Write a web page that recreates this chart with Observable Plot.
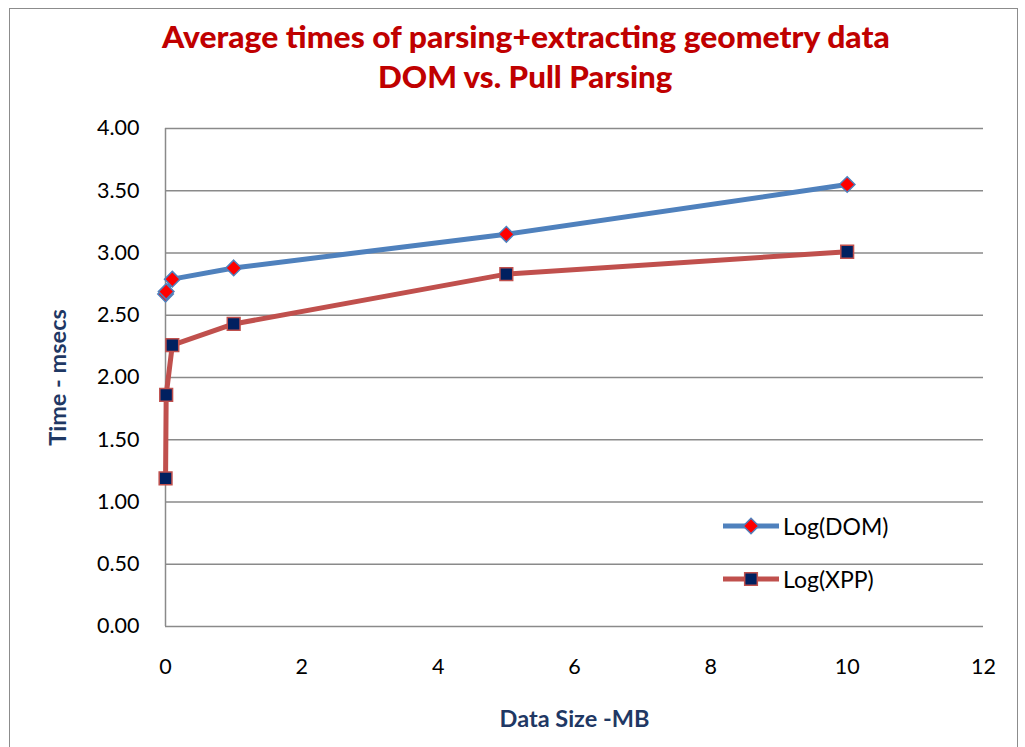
<!DOCTYPE html>
<html>
<head>
<meta charset="utf-8">
<script src="https://cdn.jsdelivr.net/npm/d3@7"></script>
<script src="https://cdn.jsdelivr.net/npm/@observablehq/plot@0.6"></script>
<style>
  html, body { margin: 0; padding: 0; background: #fff; overflow: hidden; }
  #wrap { position: relative; width: 1025px; height: 747px; overflow: hidden; background: #fff; }
  #border { position: absolute; left: 9px; top: 8px; width: 1009px; height: 760px; border: 1.5px solid #8c8c8c; box-sizing: border-box; }
  #title { position: absolute; left: 13px; width: 1025px; top: 16px; text-align: center; color: #C00000;
           font-family: Lato, "Open Sans", sans-serif; font-weight: 900; font-size: 30px; line-height: 40px; }
  #title span { display: inline-block; transform-origin: center; }
  #chart { position: absolute; left: 0; top: 0; }
  #legend { position: absolute; left: 722px; top: 508px; font-family: Lato, "Open Sans", sans-serif; font-size: 23px; color: #000; }
  .lg { display: flex; align-items: center; height: 36px; margin-bottom: 17px; }
  .lg svg { margin-right: 1px; }
</style>
</head>
<body>
<div id="wrap">
  <div id="border"></div>
  <div id="chart"></div>
  <div id="title"><span id="t1">Average times of parsing+extracting geometry data</span><br><span id="t2">DOM vs. Pull Parsing</span></div>
  <div id="legend"></div>
</div>
<script>
const dataSizes = [0.001, 0.01, 0.1, 1, 5, 10];
const domValues = [2.67, 2.69, 2.79, 2.88, 3.15, 3.55];
const xppValues = [1.19, 1.86, 2.26, 2.43, 2.83, 3.01];
const seriesNames = ["Log(DOM)", "Log(XPP)"];
const yTicks = [0, 0.5, 1, 1.5, 2, 2.5, 3, 3.5, 4];
const xTicks = [0, 2, 4, 6, 8, 10, 12];

const blue = "#4F81BD", red = "#C0504D", navy = "#002060", diamondFill = "#FF0000";

const dom = dataSizes.map((x, i) => ({x, y: domValues[i], s: seriesNames[0]}));
const xpp = dataSizes.map((x, i) => ({x, y: xppValues[i], s: seriesNames[1]}));

const chart = Plot.plot({
  width: 1025,
  height: 747,
  marginLeft: 165,
  marginRight: 42,
  marginTop: 128,
  marginBottom: 121,
  style: {fontFamily: "Lato, 'Open Sans', sans-serif", fontSize: "21.5px", color: "#000", background: "transparent"},
  x: {domain: [0, 12], ticks: xTicks},
  y: {domain: [0, 4], ticks: yTicks},
  marks: [
    Plot.gridY(yTicks, {stroke: "#8a8a8a", strokeOpacity: 1, strokeWidth: 1.5}),
    Plot.ruleX([0], {stroke: "#8a8a8a", strokeWidth: 1.5}),
    Plot.axisY({ticks: yTicks, tickSize: 0, tickPadding: 26, tickFormat: d => d.toFixed(2),
      label: "Time - msecs", labelAnchor: "center", labelOffset: 116, labelArrow: "none"}),
    Plot.axisX({ticks: xTicks, tickSize: 0, tickPadding: 32, tickFormat: d => String(d),
      label: "Data Size -MB", labelAnchor: "center", labelOffset: 100, labelArrow: "none"}),
    Plot.line(dom, {x: "x", y: "y", stroke: blue, strokeWidth: 5}),
    Plot.line(xpp, {x: "x", y: "y", stroke: red, strokeWidth: 5}),
    Plot.dot(dom, {x: "x", y: "y", symbol: "diamond2", r: 7, fill: diamondFill, stroke: blue, strokeWidth: 1.5}),
    Plot.dot(xpp, {x: "x", y: "y", symbol: "square", r: 7.2, fill: navy, stroke: red, strokeWidth: 1.5})
  ]
});
document.getElementById("chart").appendChild(chart);

// style axis labels
chart.querySelectorAll('g[aria-label="y-axis label"] text, g[aria-label="x-axis label"] text').forEach(t => {
  t.setAttribute("font-weight", "bold");
  t.setAttribute("fill", "#1F3864");
  t.style.fontWeight = "bold";
  t.style.fill = "#1F3864";
  t.style.fontSize = "23.5px";
});

// legend
const legend = document.getElementById("legend");
const legendSpec = [
  {name: seriesNames[0], stroke: blue, fill: diamondFill, symbol: d3.symbolDiamond2, size: 150},
  {name: seriesNames[1], stroke: red, fill: navy, symbol: d3.symbolSquare, size: 160}
];
legendSpec.forEach(s => {
  const row = document.createElement("div");
  row.className = "lg";
  const svg = d3.create("svg").attr("width", 60).attr("height", 20);
  svg.append("line").attr("x1", 1).attr("x2", 57).attr("y1", 10).attr("y2", 10)
    .attr("stroke", s.stroke).attr("stroke-width", 5);
  svg.append("path").attr("d", d3.symbol(s.symbol, s.size)()).attr("transform", "translate(29,10)")
    .attr("fill", s.fill).attr("stroke", s.stroke).attr("stroke-width", 1.5);
  row.appendChild(svg.node());
  const lab = document.createElement("span");
  lab.textContent = s.name;
  row.appendChild(lab);
  legend.appendChild(row);
});

// fit title width to reference
const targetW = {t1: 728, t2: 294};
Object.entries(targetW).forEach(([id, w]) => {
  const el = document.getElementById(id);
  const cw = el.offsetWidth;
  if (cw > 0) el.style.transform = `scaleX(${w / cw})`;
});
</script>
</body>
</html>
